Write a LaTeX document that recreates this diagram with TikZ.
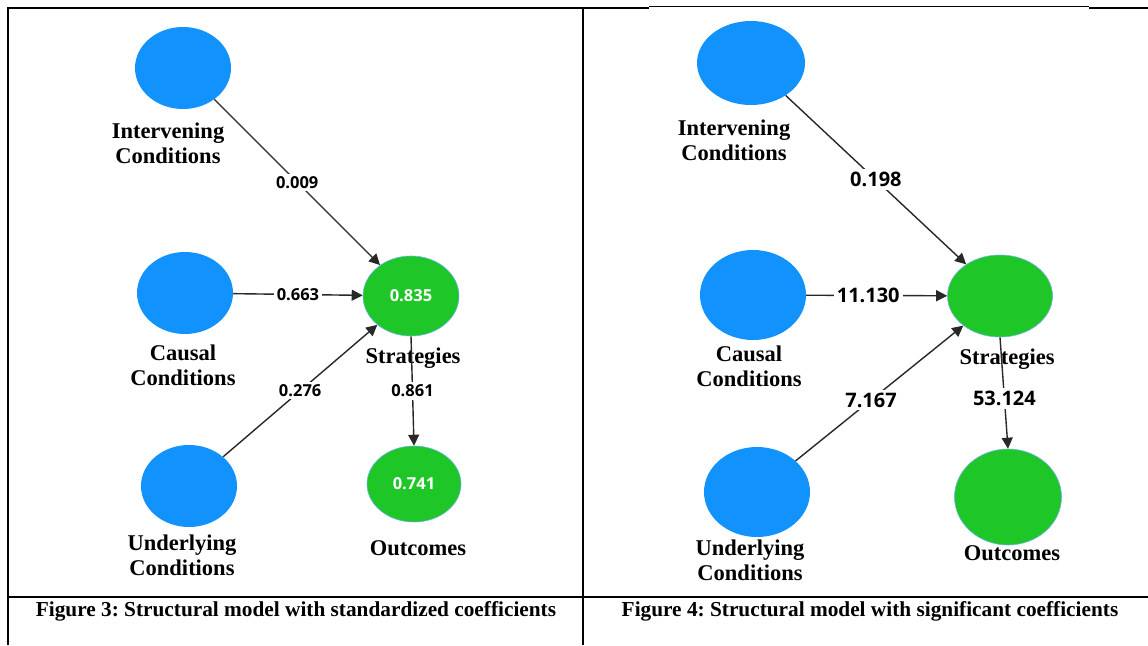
\documentclass[tikz,border=0pt]{standalone}
\usepackage{fontspec}
\setmainfont{Liberation Serif}
\newfontfamily\numfont{Open Sans}
\usetikzlibrary{arrows.meta,shapes.geometric}
\definecolor{cblue}{RGB}{18,146,252}
\definecolor{cgreen}{RGB}{30,198,40}
\definecolor{cline}{RGB}{40,40,40}
\definecolor{cring}{RGB}{110,180,235}
\frenchspacing
\begin{document}
\begin{tikzpicture}[x=1pt,y=-1pt,
  blueball/.style={ellipse, fill=cblue, inner sep=0pt},
  greenball/.style={ellipse, fill=cgreen, draw=cring, line width=0.6pt, inner sep=0pt, text=white, font=\numfont\bfseries\fontsize{16.5}{18}\selectfont},
  lbl/.style={align=center, inner sep=0pt, font=\bfseries\fontsize{22.5}{25}\selectfont},
  conn/.style={draw=cline, line width=1.4pt, -{Triangle[length=11pt,width=11pt]}},
  coefL/.style={fill=white, inner sep=2.5pt, font=\numfont\bfseries\fontsize{16.5}{18}\selectfont},
  coefR/.style={fill=white, inner sep=3pt, font=\numfont\bfseries\fontsize{20}{22}\selectfont},
  frame/.style={line width=2pt, black},
  caption/.style={inner sep=0pt, font=\bfseries\fontsize{21.3}{24}\selectfont}
]
\useasboundingbox (0,0) rectangle (1148,645);
\fill[white] (0,0) rectangle (1148,645);

% table frame
\draw[frame] (7,7.5) -- (649,7.5);
\draw[line width=1pt] (649,6.5) -- (1089,6.5);
\draw[frame] (1089,7.5) -- (1148,7.5);
\draw[frame] (8,7) -- (8,645);
\draw[frame] (583,7) -- (583,645);
\draw[frame] (8,597) -- (1148,597);

% ---------- left panel ----------
\node[blueball, minimum width=96pt, minimum height=82pt] (iL) at (183,68) {};
\node[blueball, minimum width=96pt, minimum height=82pt] (cL) at (185,293) {};
\node[blueball, minimum width=96pt, minimum height=82pt] (uL) at (189,486) {};
\node[greenball, minimum width=96pt, minimum height=80pt] (sL) at (411,296) {0.835};
\node[greenball, minimum width=94pt, minimum height=76pt] (oL) at (414,484) {0.741};

\node[lbl] (iLt) at (168,143) {Intervening\\Conditions};
\node[lbl] (cLt) at (183,365) {Causal\\Conditions};
\node[lbl] (uLt) at (182,555) {Underlying\\Conditions};
\node[lbl] (sLt) at (413,358) {Strategies};
\node[lbl] (oLt) at (418,548) {Outcomes};

\draw[conn] (iL) -- node[coefL] {0.009} (sL);
\draw[conn] (cL) -- node[coefL] {0.663} (sL);
\draw[conn] (uL) -- node[coefL] {0.276} (sL);
\draw[conn] (sL.south) -- node[coefL] {0.861} (oL.north);

% ---------- right panel ----------
\node[blueball, minimum width=108pt, minimum height=84pt] (iR) at (751,63) {};
\node[blueball, minimum width=106pt, minimum height=90pt] (cR) at (753,295) {};
\node[blueball, minimum width=106pt, minimum height=90pt] (uR) at (757,492) {};
\node[greenball, minimum width=105pt, minimum height=82pt] (sR) at (1000,296) {};
\node[greenball, minimum width=107pt, minimum height=96pt] (oR) at (1008,497) {};

\node[lbl] (iRt) at (734,140) {Intervening\\Conditions};
\node[lbl] (cRt) at (749,366) {Causal\\Conditions};
\node[lbl] (uRt) at (750,560) {Underlying\\Conditions};
\node[lbl] (sRt) at (1007,359) {Strategies};
\node[lbl] (oRt) at (1012,553) {Outcomes};

\draw[conn] (iR) -- node[coefR] {0.198} (sR);
\draw[conn] (cR) -- node[coefR, pos=0.44] {11.130} (sR);
\draw[conn] (uR) -- node[coefR, pos=0.45] {7.167} (sR);
\draw[conn] (sR.south) -- node[coefR, pos=0.55] {53.124} (oR.north);

% captions
\node[caption] (capL) at (296,611) {Figure 3: Structural model with standardized coefficients};
\node[caption] (capR) at (870,611) {Figure 4: Structural model with significant coefficients};
\end{tikzpicture}
\end{document}
